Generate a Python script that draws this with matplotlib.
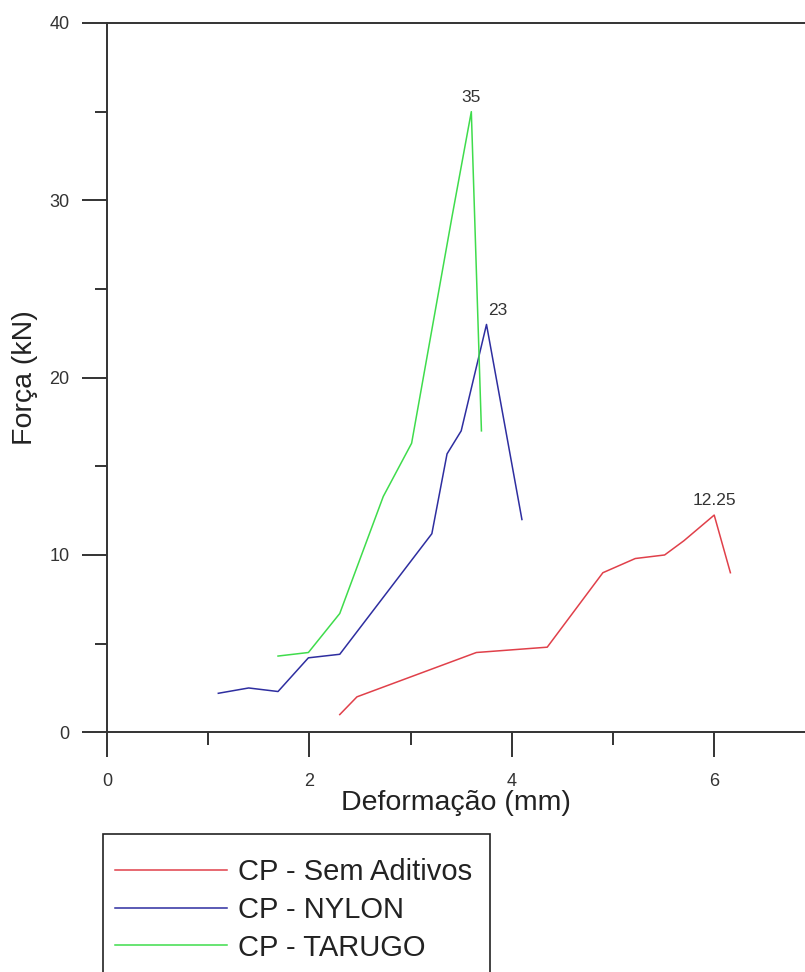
import matplotlib
matplotlib.use('Agg')
from matplotlib import pyplot as plt
from matplotlib.patches import Rectangle

plt.rcParams['font.family'] = ['Liberation Sans', 'DejaVu Sans']

# deformation (mm) / force (kN)
sem_x = [2.30, 2.47, 3.65, 4.35, 4.90, 5.22, 5.51, 5.70, 6.00, 6.16]
sem_y = [1.0, 2.0, 4.5, 4.8, 9.0, 9.8, 10.0, 10.8, 12.25, 9.0]

nylon_x = [1.10, 1.40, 1.69, 1.99, 2.30, 3.21, 3.36, 3.50, 3.75, 4.10]
nylon_y = [2.2, 2.5, 2.3, 4.2, 4.4, 11.2, 15.7, 17.0, 23.0, 12.0]

tarugo_x = [1.69, 1.99, 2.30, 2.73, 3.01, 3.41, 3.60, 3.70]
tarugo_y = [4.3, 4.5, 6.7, 13.3, 16.3, 29.1, 35.0, 17.0]

labels = ['CP - Sem Aditivos', 'CP - NYLON', 'CP - TARUGO']
colors = ['#e0404a', '#2e2ea0', '#3fdc4c']
peak_offsets = [(0, 5), (8, 5), (0, 5)]

W, H = 805, 972
fig = plt.figure(figsize=(W / 100, H / 100), dpi=100)
ax = fig.add_axes([107 / W, (H - 732.3) / H, (W - 107) / W, (732.3 - 23) / H])

series = [(sem_x, sem_y), (nylon_x, nylon_y), (tarugo_x, tarugo_y)]
handles = []
for (xs, ys), lab, col, off in zip(series, labels, colors, peak_offsets):
    h, = ax.plot(xs, ys, color=col, lw=1.1, label=lab)
    handles.append(h)
    i = ys.index(max(ys))
    ax.annotate(f'{ys[i]:g}', xy=(xs[i], ys[i]), xytext=off, textcoords='offset points',
                ha='center', va='bottom', fontsize=12.5, color='#333333')

ax.set_xlim(0, (W - 107) / 101.2)
ax.set_ylim(0, 40)
ax.set_xticks([0, 2, 4, 6])
ax.set_xticks([1, 3, 5], minor=True)
ax.set_yticks([0, 10, 20, 30, 40])
ax.set_yticks([5, 15, 25, 35], minor=True)

ax.spines['right'].set_visible(False)
for s in ['left', 'bottom', 'top']:
    ax.spines[s].set_linewidth(1.4)
    ax.spines[s].set_color('#333333')

ax.tick_params(which='major', direction='out', length=18, width=1.4, color='#333333',
               labelsize=13, labelcolor='#333333')
ax.tick_params(axis='x', which='major', pad=11)
ax.tick_params(axis='y', which='major', pad=9)
ax.tick_params(which='minor', direction='out', length=9, width=1.4, color='#333333')

ax.set_xlabel('Deformação (mm)', fontsize=20.5, color='#222222', labelpad=0)
ax.set_ylabel('Força (kN)', fontsize=20.5, color='#222222', labelpad=8)

# legend box, running off the bottom of the picture like the original
fig.patches.append(Rectangle((102.7 / W, -0.05), (490 - 102.7) / W, (H - 834) / H + 0.05,
                             transform=fig.transFigure, fill=False, ec='#222222', lw=1.2))
leg = fig.legend(handles, labels, loc='upper left', bbox_to_anchor=(102.7 / W, (H - 846) / H),
                 borderaxespad=0, fontsize=21, handlelength=3.84, handletextpad=0.38,
                 borderpad=0.42, labelspacing=0.33, frameon=False)
for t in leg.get_texts():
    t.set_color('#222222')

plt.savefig('out.png', dpi=100)
